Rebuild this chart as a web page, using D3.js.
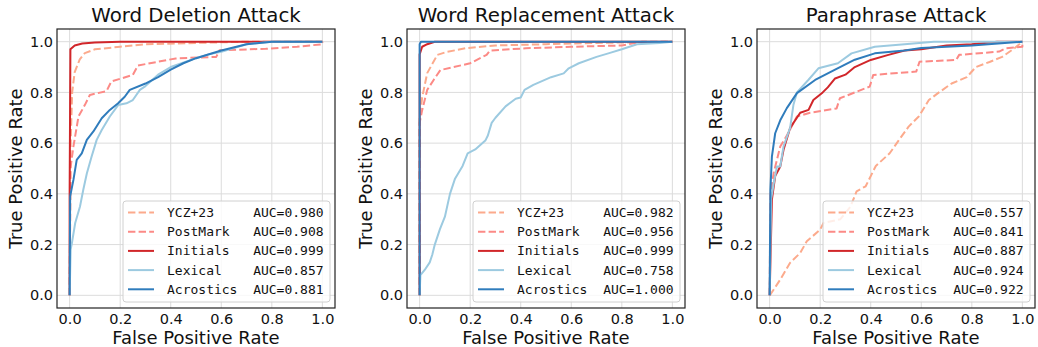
<!DOCTYPE html>
<html>
<head>
<meta charset="utf-8">
<script src="https://cdn.jsdelivr.net/npm/d3@7"></script>
<style>
  body { margin: 0; background: #fff; }
  svg { font-family: "DejaVu Sans", sans-serif; }
</style>
</head>
<body>
<svg width="1038" height="347"></svg>
<script>
// panel titles and legend entries
const titles = ['Word Deletion Attack', 'Word Replacement Attack', 'Paraphrase Attack']
const methods = ['YCZ+23', 'PostMark', 'Initials', 'Lexical', 'Acrostics']
const colors = ['#fcaa8c', '#fc8a86', '#d1262a', '#9ccae0', '#2f7cbc']
const dashed = [true, true, false, false, false]
const ticks = [0, 0.2, 0.4, 0.6, 0.8, 1.0]

const aucDeletion = ['0.980', '0.908', '0.999', '0.857', '0.881']
const aucReplacement = ['0.982', '0.956', '0.999', '0.758', '1.000']
const aucParaphrase = ['0.557', '0.841', '0.887', '0.924', '0.922']

// ROC points [fpr, tpr]
const delYCZ = [[0,0],[0.004,0.6],[0.01,0.8],[0.02,0.88],[0.04,0.93],[0.06,0.955],[0.1,0.97],[0.2,0.98],[0.3,0.99],[0.5,0.995],[0.7,1.0],[1,1]]
const delPost = [[0,0],[0.003,0.5],[0.015,0.587],[0.035,0.705],[0.06,0.75],[0.08,0.79],[0.146,0.805],[0.165,0.843],[0.25,0.869],[0.27,0.906],[0.42,0.934],[0.58,0.94],[0.593,0.966],[0.776,0.972],[0.9,0.98],[1,0.99],[1,1]]
const delInit = [[0,0],[0,0.4],[0.003,0.97],[0.02,0.985],[0.05,0.993],[0.1,0.997],[0.2,1.0],[1,1]]
const delLex = [[0,0],[0.004,0.18],[0.009,0.206],[0.022,0.285],[0.041,0.35],[0.054,0.416],[0.068,0.48],[0.087,0.547],[0.107,0.613],[0.127,0.652],[0.159,0.705],[0.192,0.75],[0.225,0.757],[0.25,0.77],[0.278,0.81],[0.3,0.825],[0.35,0.87],[0.4,0.9],[0.5,0.935],[0.55,0.95],[0.6,0.96],[0.7,0.99],[0.8,1.0],[1,1]]
const delAcr = [[0,0],[0.002,0.39],[0.015,0.455],[0.028,0.534],[0.048,0.56],[0.068,0.613],[0.094,0.646],[0.127,0.698],[0.159,0.731],[0.192,0.757],[0.218,0.783],[0.238,0.81],[0.3,0.835],[0.35,0.86],[0.4,0.89],[0.45,0.915],[0.5,0.935],[0.6,0.965],[0.7,0.99],[0.8,1.0],[1,1]]

const repYCZ = [[0,0],[0,0.7],[0.01,0.78],[0.03,0.876],[0.07,0.948],[0.109,0.96],[0.187,0.975],[0.3,0.985],[0.5,0.99],[0.7,0.995],[1,1]]
const repPost = [[0,0],[0,0.68],[0.01,0.73],[0.03,0.81],[0.056,0.85],[0.082,0.888],[0.135,0.9],[0.2,0.915],[0.265,0.948],[0.278,0.965],[0.42,0.974],[0.6,0.98],[0.8,0.985],[0.88,1.0],[1,1]]
const repInit = [[0,0],[0,0.95],[0.01,0.98],[0.03,0.99],[0.06,1.0],[1,1]]
const repLex = [[0,0],[0.003,0.08],[0.02,0.1],[0.04,0.13],[0.05,0.16],[0.06,0.2],[0.08,0.26],[0.1,0.31],[0.12,0.4],[0.14,0.46],[0.17,0.51],[0.19,0.56],[0.22,0.575],[0.26,0.61],[0.27,0.63],[0.285,0.68],[0.3,0.7],[0.34,0.745],[0.38,0.775],[0.4,0.78],[0.415,0.81],[0.45,0.83],[0.52,0.86],[0.57,0.875],[0.59,0.895],[0.63,0.915],[0.7,0.94],[0.75,0.955],[0.8,0.97],[0.86,0.99],[0.95,0.995],[1,1]]
const repAcr = [[0,0],[0,0.99],[0.005,1.0],[1,1]]

const parYCZ = [[0,0],[0.003,0.003],[0.042,0.062],[0.081,0.128],[0.121,0.167],[0.147,0.213],[0.2,0.259],[0.213,0.285],[0.28,0.3],[0.32,0.35],[0.344,0.41],[0.38,0.43],[0.42,0.51],[0.475,0.56],[0.51,0.61],[0.55,0.665],[0.59,0.705],[0.63,0.77],[0.67,0.8],[0.72,0.835],[0.78,0.86],[0.816,0.9],[0.87,0.92],[0.92,0.94],[0.97,0.975],[1,1]]
const parPost = [[0,0],[0.003,0.4],[0.016,0.482],[0.042,0.587],[0.068,0.63],[0.108,0.705],[0.16,0.72],[0.265,0.737],[0.278,0.777],[0.396,0.823],[0.41,0.869],[0.58,0.882],[0.593,0.921],[0.738,0.928],[0.75,0.948],[0.908,0.961],[0.934,0.974],[1,0.98],[1,1]]
const parInit = [[0,0],[0.009,0.377],[0.022,0.47],[0.042,0.508],[0.055,0.574],[0.081,0.66],[0.121,0.72],[0.154,0.731],[0.173,0.77],[0.21,0.8],[0.23,0.82],[0.259,0.855],[0.3,0.87],[0.337,0.9],[0.4,0.928],[0.47,0.948],[0.534,0.965],[0.6,0.97],[0.7,0.985],[0.8,0.99],[0.9,1.0],[1,1]]
const parLex = [[0,0],[0.006,0.38],[0.016,0.44],[0.029,0.508],[0.042,0.508],[0.055,0.587],[0.081,0.66],[0.094,0.75],[0.108,0.8],[0.153,0.849],[0.193,0.895],[0.27,0.915],[0.324,0.954],[0.416,0.98],[0.534,0.99],[0.65,1.0],[1,1]]
const parAcr = [[0,0],[0.003,0.416],[0.009,0.547],[0.022,0.639],[0.042,0.69],[0.068,0.738],[0.108,0.797],[0.18,0.849],[0.259,0.89],[0.337,0.929],[0.416,0.954],[0.534,0.965],[0.6,0.975],[0.7,0.98],[0.8,0.985],[1,1]]

const panels = [
  { title: titles[0], auc: aucDeletion, curves: [delYCZ, delPost, delInit, delLex, delAcr] },
  { title: titles[1], auc: aucReplacement, curves: [repYCZ, repPost, repInit, repLex, repAcr] },
  { title: titles[2], auc: aucParaphrase, curves: [parYCZ, parPost, parInit, parLex, parAcr] }
]

const svg = d3.select('svg')
const lefts = [57, 407, 757]
const W = 278, plotTop = 29, plotBottom = 308
const monoW = 7.83

panels.forEach(function(p, i) {
  let x = d3.scaleLinear().domain([-0.05, 1.05]).range([lefts[i], lefts[i] + W])
  let y = d3.scaleLinear().domain([-0.05, 1.05]).range([plotBottom, plotTop])
  let g = svg.append('g')

  // grid
  g.append('g').selectAll('line').data(ticks).join('line')
    .attr('x1', d => x(d)).attr('x2', d => x(d)).attr('y1', plotTop).attr('y2', plotBottom)
    .attr('stroke', '#dcdcdc').attr('stroke-width', 1)
  g.append('g').selectAll('line').data(ticks).join('line')
    .attr('y1', d => y(d)).attr('y2', d => y(d)).attr('x1', lefts[i]).attr('x2', lefts[i] + W)
    .attr('stroke', '#dcdcdc').attr('stroke-width', 1)

  // axes (tick labels only)
  let xa = g.append('g').attr('transform', `translate(0,${plotBottom})`)
    .call(d3.axisBottom(x).tickValues(ticks).tickFormat(d3.format('.1f')).tickSize(0).tickPadding(6))
  let ya = g.append('g').attr('transform', `translate(${lefts[i]},0)`)
    .call(d3.axisLeft(y).tickValues(ticks).tickFormat(d3.format('.1f')).tickSize(0).tickPadding(4))
  ;[xa, ya].forEach(a => {
    a.select('.domain').remove()
    a.selectAll('text').attr('font-size', 14.5).attr('font-family', 'DejaVu Sans').attr('fill', '#111')
  })

  // curves
  let line = d3.line().x(d => x(d[0])).y(d => y(d[1]))
  p.curves.forEach(function(c, k) {
    g.append('path').datum(c)
      .attr('d', line)
      .attr('fill', 'none')
      .attr('stroke', colors[k])
      .attr('stroke-width', 2)
      .attr('stroke-linejoin', 'round')
      .attr('stroke-dasharray', dashed[k] ? '7.4,3.2' : null)
  })

  // frame
  g.append('rect').attr('x', lefts[i]).attr('y', plotTop).attr('width', W).attr('height', plotBottom - plotTop)
    .attr('fill', 'none').attr('stroke', '#222').attr('stroke-width', 1.2)

  // labels
  g.append('text').attr('x', lefts[i] + W / 2).attr('y', 22).attr('text-anchor', 'middle')
    .attr('font-size', 19.8).attr('fill', '#111').text(p.title)
  g.append('text').attr('x', lefts[i] + W / 2).attr('y', 344).attr('text-anchor', 'middle')
    .attr('font-size', 18).attr('fill', '#111').text('False Positive Rate')
  g.append('text').attr('transform', `translate(${lefts[i] - 35},${(plotTop + plotBottom) / 2}) rotate(-90)`)
    .attr('text-anchor', 'middle').attr('font-size', 18).attr('fill', '#111').text('True Positive Rate')

  // legend
  let lx = lefts[i] + W - 212, ly = 201
  let lg = g.append('g')
  lg.append('rect').attr('x', lx).attr('y', ly).attr('width', 207).attr('height', 101)
    .attr('rx', 3).attr('fill', 'white').attr('fill-opacity', 0.8)
    .attr('stroke', '#d0d0d0').attr('stroke-width', 1)
  methods.forEach(function(m, k) {
    let yy = ly + 11.5 + k * 19.2
    lg.append('line').attr('x1', lx + 5).attr('x2', lx + 31).attr('y1', yy).attr('y2', yy)
      .attr('stroke', colors[k]).attr('stroke-width', 2)
      .attr('stroke-dasharray', dashed[k] ? '7.4,3.2' : null)
    lg.append('text').attr('x', lx + 44).attr('y', yy).attr('dy', '0.35em')
      .attr('font-family', 'DejaVu Sans Mono').attr('font-size', 13).attr('fill', '#111').text(m)
    lg.append('text').attr('x', lx + 44 + 11 * monoW).attr('y', yy).attr('dy', '0.35em')
      .attr('font-family', 'DejaVu Sans Mono').attr('font-size', 13).attr('fill', '#111').text('AUC=' + p.auc[k])
  })
})
</script>
</body>
</html>
